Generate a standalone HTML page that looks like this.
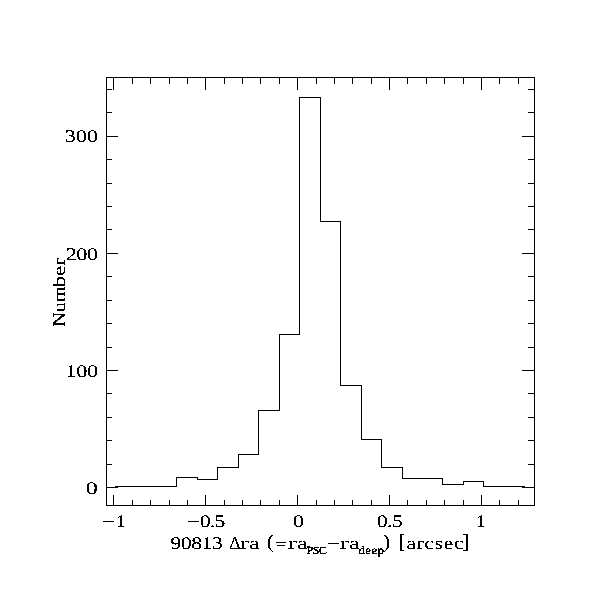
<!DOCTYPE html>
<html><head><meta charset="utf-8"><title>Histogram</title>
<style>
html,body{margin:0;padding:0;background:#fff;}
svg{display:block;}
text{font-family:"Liberation Serif",serif;fill:#000;text-rendering:geometricPrecision;}
</style></head>
<body>
<svg width="611" height="611" viewBox="0 0 611 611">
<defs>
<filter id="alias" x="0" y="0" width="611" height="611" filterUnits="userSpaceOnUse" color-interpolation-filters="sRGB">
<feComponentTransfer>
<feFuncR type="discrete" tableValues="0"/>
<feFuncG type="discrete" tableValues="0"/>
<feFuncB type="discrete" tableValues="0"/>
<feFuncA type="discrete" tableValues="0 0 1 1 1"/>
</feComponentTransfer>
</filter>
<filter id="alias2" x="0" y="0" width="611" height="611" filterUnits="userSpaceOnUse" color-interpolation-filters="sRGB">
<feComponentTransfer>
<feFuncR type="discrete" tableValues="0"/>
<feFuncG type="discrete" tableValues="0"/>
<feFuncB type="discrete" tableValues="0"/>
<feFuncA type="discrete" tableValues="0 1 1 1"/>
</feComponentTransfer>
</filter>
</defs>
<rect x="0" y="0" width="611" height="611" fill="#fff"/>
<g fill="#000" shape-rendering="crispEdges">
<rect x="106" y="77" width="429" height="1"/>
<rect x="106" y="505" width="429" height="1"/>
<rect x="106" y="77" width="1" height="429"/>
<rect x="534" y="77" width="1" height="429"/>
<rect x="113" y="77" width="1" height="13"/>
<rect x="113" y="495" width="1" height="11"/>
<rect x="132" y="77" width="1" height="7"/>
<rect x="132" y="500" width="1" height="6"/>
<rect x="150" y="77" width="1" height="7"/>
<rect x="150" y="500" width="1" height="6"/>
<rect x="169" y="77" width="1" height="7"/>
<rect x="169" y="500" width="1" height="6"/>
<rect x="187" y="77" width="1" height="7"/>
<rect x="187" y="500" width="1" height="6"/>
<rect x="205" y="77" width="1" height="13"/>
<rect x="205" y="495" width="1" height="11"/>
<rect x="224" y="77" width="1" height="7"/>
<rect x="224" y="500" width="1" height="6"/>
<rect x="242" y="77" width="1" height="7"/>
<rect x="242" y="500" width="1" height="6"/>
<rect x="260" y="77" width="1" height="7"/>
<rect x="260" y="500" width="1" height="6"/>
<rect x="279" y="77" width="1" height="7"/>
<rect x="279" y="500" width="1" height="6"/>
<rect x="297" y="77" width="1" height="13"/>
<rect x="297" y="495" width="1" height="11"/>
<rect x="316" y="77" width="1" height="7"/>
<rect x="316" y="500" width="1" height="6"/>
<rect x="334" y="77" width="1" height="7"/>
<rect x="334" y="500" width="1" height="6"/>
<rect x="352" y="77" width="1" height="7"/>
<rect x="352" y="500" width="1" height="6"/>
<rect x="371" y="77" width="1" height="7"/>
<rect x="371" y="500" width="1" height="6"/>
<rect x="389" y="77" width="1" height="13"/>
<rect x="389" y="495" width="1" height="11"/>
<rect x="407" y="77" width="1" height="7"/>
<rect x="407" y="500" width="1" height="6"/>
<rect x="426" y="77" width="1" height="7"/>
<rect x="426" y="500" width="1" height="6"/>
<rect x="444" y="77" width="1" height="7"/>
<rect x="444" y="500" width="1" height="6"/>
<rect x="463" y="77" width="1" height="7"/>
<rect x="463" y="500" width="1" height="6"/>
<rect x="481" y="77" width="1" height="13"/>
<rect x="481" y="495" width="1" height="11"/>
<rect x="499" y="77" width="1" height="7"/>
<rect x="499" y="500" width="1" height="6"/>
<rect x="518" y="77" width="1" height="7"/>
<rect x="518" y="500" width="1" height="6"/>
<rect x="106" y="487" width="12" height="1"/>
<rect x="522" y="487" width="13" height="1"/>
<rect x="106" y="464" width="6" height="1"/>
<rect x="528" y="464" width="7" height="1"/>
<rect x="106" y="440" width="6" height="1"/>
<rect x="528" y="440" width="7" height="1"/>
<rect x="106" y="417" width="6" height="1"/>
<rect x="528" y="417" width="7" height="1"/>
<rect x="106" y="393" width="6" height="1"/>
<rect x="528" y="393" width="7" height="1"/>
<rect x="106" y="370" width="12" height="1"/>
<rect x="522" y="370" width="13" height="1"/>
<rect x="106" y="347" width="6" height="1"/>
<rect x="528" y="347" width="7" height="1"/>
<rect x="106" y="323" width="6" height="1"/>
<rect x="528" y="323" width="7" height="1"/>
<rect x="106" y="300" width="6" height="1"/>
<rect x="528" y="300" width="7" height="1"/>
<rect x="106" y="276" width="6" height="1"/>
<rect x="528" y="276" width="7" height="1"/>
<rect x="106" y="253" width="12" height="1"/>
<rect x="522" y="253" width="13" height="1"/>
<rect x="106" y="229" width="6" height="1"/>
<rect x="528" y="229" width="7" height="1"/>
<rect x="106" y="206" width="6" height="1"/>
<rect x="528" y="206" width="7" height="1"/>
<rect x="106" y="183" width="6" height="1"/>
<rect x="528" y="183" width="7" height="1"/>
<rect x="106" y="159" width="6" height="1"/>
<rect x="528" y="159" width="7" height="1"/>
<rect x="106" y="136" width="12" height="1"/>
<rect x="522" y="136" width="13" height="1"/>
<rect x="106" y="112" width="6" height="1"/>
<rect x="528" y="112" width="7" height="1"/>
<rect x="106" y="89" width="6" height="1"/>
<rect x="528" y="89" width="7" height="1"/>
<rect x="115" y="486" width="62" height="1"/>
<rect x="176" y="477" width="1" height="10"/>
<rect x="176" y="477" width="22" height="1"/>
<rect x="197" y="477" width="1" height="3"/>
<rect x="197" y="479" width="21" height="1"/>
<rect x="217" y="467" width="1" height="13"/>
<rect x="217" y="467" width="22" height="1"/>
<rect x="238" y="454" width="1" height="14"/>
<rect x="238" y="454" width="21" height="1"/>
<rect x="258" y="410" width="1" height="45"/>
<rect x="258" y="410" width="22" height="1"/>
<rect x="279" y="334" width="1" height="77"/>
<rect x="279" y="334" width="21" height="1"/>
<rect x="299" y="97" width="1" height="238"/>
<rect x="299" y="97" width="22" height="1"/>
<rect x="320" y="97" width="1" height="125"/>
<rect x="320" y="221" width="21" height="1"/>
<rect x="340" y="221" width="1" height="165"/>
<rect x="340" y="385" width="22" height="1"/>
<rect x="361" y="385" width="1" height="55"/>
<rect x="361" y="439" width="21" height="1"/>
<rect x="381" y="439" width="1" height="29"/>
<rect x="381" y="467" width="22" height="1"/>
<rect x="402" y="467" width="1" height="12"/>
<rect x="402" y="478" width="41" height="1"/>
<rect x="442" y="478" width="1" height="7"/>
<rect x="442" y="484" width="22" height="1"/>
<rect x="463" y="481" width="1" height="4"/>
<rect x="463" y="481" width="21" height="1"/>
<rect x="483" y="481" width="1" height="6"/>
<rect x="483" y="486" width="42" height="1"/>
</g>
<g filter="url(#alias)">
<text transform="translate(101.5,527) scale(1.38,1)" font-size="17.8">−</text>
<text transform="translate(115.8,527) scale(1.15,1)" font-size="17.8">1</text>
<text transform="translate(186.5,527) scale(1.38,1)" font-size="17.8">−</text>
<text transform="translate(199.8,527) scale(1.22,1)" font-size="17.8" textLength="20.90" lengthAdjust="spacing">0.5</text>
<text transform="translate(292.7,527) scale(1.25,1)" font-size="17.8">0</text>
<text transform="translate(376.8,527) scale(1.22,1)" font-size="17.8" textLength="21.31" lengthAdjust="spacing">0.5</text>
<text transform="translate(475.8,527) scale(1.15,1)" font-size="17.8">1</text>
<text transform="translate(64.8,142) scale(1.25,1)" font-size="17.8" textLength="26.40" lengthAdjust="spacing">300</text>
<text transform="translate(65.8,260) scale(1.25,1)" font-size="17.8" textLength="25.60" lengthAdjust="spacing">200</text>
<text transform="translate(65.5,377) scale(1.25,1)" font-size="17.8" textLength="26.00" lengthAdjust="spacing">100</text>
<text transform="translate(85.7,494) scale(1.35,1)" font-size="17.8">0</text>
<text transform="translate(170.4,549) scale(1.22,1)" font-size="17.8" textLength="43.03" lengthAdjust="spacing">90813</text>
<text transform="translate(229.3,549) scale(1.0,1)" font-size="17.8">Δ</text>
<text transform="translate(239.5,549) scale(1.6,1)" font-size="17.8">r</text>
<text transform="translate(249.3,549) scale(1.3,1)" font-size="17.8">a</text>
<text transform="translate(267,548) scale(1.2,1.12)" font-size="17.8">(</text>
<text transform="translate(275.3,550) scale(1.15,1)" font-size="17.8">=</text>
<text transform="translate(287.5,549) scale(1.6,1)" font-size="17.8">r</text>
<text transform="translate(297.3,549) scale(1.3,1)" font-size="17.8">a</text>
<text transform="translate(326.5,549) scale(1.38,1)" font-size="17.8">−</text>
<text transform="translate(339.5,549) scale(1.6,1)" font-size="17.8">r</text>
<text transform="translate(349.3,549) scale(1.3,1)" font-size="17.8">a</text>
<text transform="translate(383,548) scale(1.2,1.12)" font-size="17.8">)</text>
<text transform="translate(398.3,548) scale(1.2,1.12)" font-size="17.8">[</text>
<text transform="translate(406.5,549) scale(1.2,1)" font-size="17.8" textLength="47.50" lengthAdjust="spacing">arcsec</text>
<text transform="translate(462.2,548) scale(1.2,1.12)" font-size="17.8">]</text>
<text transform="translate(64.5,326.8) rotate(-90) scale(1.14,1)" font-size="17.8">Num</text>
<text transform="translate(64.5,287.6) rotate(-90) scale(1.31,1)" font-size="17.8">ber</text>
</g>
<g filter="url(#alias2)">
<text transform="translate(306.5,554) scale(1.12,1)" font-size="11" textLength="18.30" lengthAdjust="spacing">PSC</text>
<text transform="translate(358.5,554) scale(1.12,1)" font-size="11.5" textLength="22.77" lengthAdjust="spacing">deep</text>
</g>
</svg>
</body></html>
